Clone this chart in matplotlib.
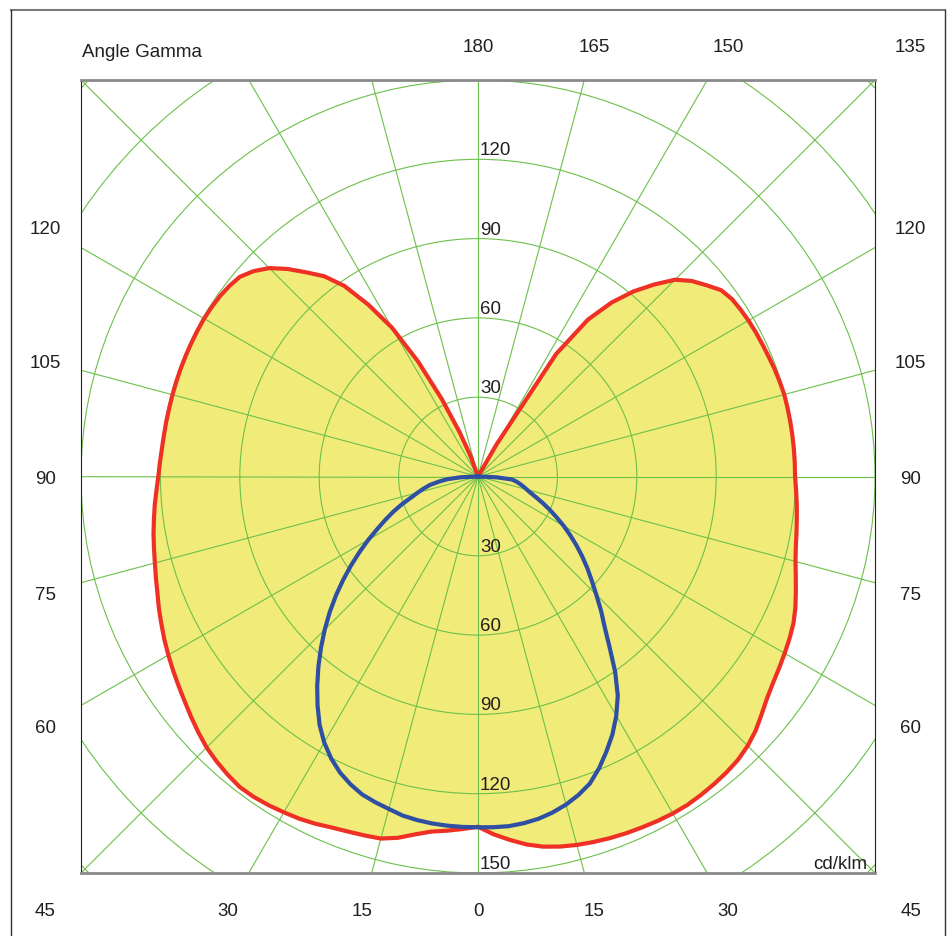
import numpy as np
import matplotlib.pyplot as plt
from matplotlib.patches import Circle
from matplotlib.lines import Line2D

plt.rcParams['font.family'] = ['Liberation Sans', 'DejaVu Sans']

# gamma angles in degrees, 0 = straight down, 180 = straight up, 2.5 deg steps
gamma = [i * 2.5 for i in range(73)]

# red curve (C0-C180) in cd/klm, right half and left half, from gamma 0 upwards
red_right = [132.5, 135.5, 138, 140.4, 142.2, 143.4, 144.3, 145, 145.6, 146.1,
             146.5, 146.9, 147.2, 147.3, 147, 146.6, 146.1, 145.4, 144.1, 142.3,
             139.9, 137.7, 136.1, 134.9, 133.8, 132.7, 131.5, 129.8, 127.8, 125.9,
             124.2, 123, 122.2, 121.5, 120.9, 120.3, 119.8, 119.8, 119.8, 119.8,
             119.8, 119.8, 119.8, 119.5, 119.2, 118.8, 118.5, 118.3, 118, 117.6,
             117.1, 115.8, 112.6, 109.5, 105.3, 98.5, 91.4, 83, 72.5, 55,
             14, 0]
red_left = [132.5, 133.5, 134.5, 135.5, 137.5, 140, 141.8, 142.4, 143, 143.8,
            145, 146, 146.7, 147.4, 147.9, 148, 147.2, 146.2, 145, 143.3,
            141.5, 139.7, 138.1, 136.6, 135.1, 133.6, 132, 130.5, 128.9, 127.6,
            126.4, 125.4, 124.5, 123.5, 122.6, 121.6, 120.8, 120.3, 119.9, 119.7,
            119.6, 119.5, 119.5, 119.5, 119.5, 119.5, 119.5, 119.5, 119.5, 119.3,
            119, 118.4, 117.5, 115, 111.5, 106.5, 100.8, 95.5, 88, 77,
            65, 49, 32.2, 18, 8.2, 0]

# blue curve (C90-C270), gamma 0 to 90
blue_right = [132.7, 132.8, 132.8, 132.3, 131.5, 130.2, 128.5, 126.3, 123.6, 119.5,
              114.8, 110, 104.5, 98.3, 90.4, 81.8, 74.5, 68.8, 63.2, 58.3,
              53.9, 49.6, 45.4, 41.3, 37.4, 33.5, 30, 26.7, 23.6, 21,
              19.1, 17.6, 16.1, 14.6, 12.8, 7, 0]
blue_left = [132.7, 132.7, 132.6, 132.4, 132, 131.4, 130.2, 129.2, 128, 126,
             123.5, 120.2, 116.2, 111.4, 105.7, 99.8, 93.8, 87.8, 81.9, 76,
             70.1, 64.2, 58.5, 53, 47.8, 42.8, 38.5, 34.5, 30.5, 26.5,
             23.6, 21, 18.5, 15, 11.5, 6.5, 0]

rings = [30, 60, 90, 120, 150, 180, 210]
ring_labels_top = [30, 60, 90, 120]
ring_labels_bottom = [30, 60, 90, 120, 150]
right_labels = [0, 15, 30, 45, 60, 75, 90, 105, 120, 135, 150, 165, 180]
left_labels = [15, 30, 45, 60, 75, 90, 105, 120]

yellow = '#f1ec7a'
red = '#ee3124'
blue = '#2f4fa3'
green = '#6cc04a'
txt = '#231f20'


def curve(r_right, r_left):
    # closed outline: right half from the top end down to gamma 0, then left half back up
    gr = np.radians(gamma[:len(r_right)])
    gl = np.radians(gamma[:len(r_left)])
    rr = np.array(r_right)
    rl = np.array(r_left)
    x = np.concatenate([(rr * np.sin(gr))[::-1], (-rl * np.sin(gl))[1:]])
    y = np.concatenate([(-rr * np.cos(gr))[::-1], (-rl * np.cos(gl))[1:]])
    return x, y


fig = plt.figure(figsize=(9.49, 9.36), dpi=100)
ax = fig.add_axes([81 / 949, 63 / 936, 794 / 949, 793 / 936])
ax.set_xlim(-150, 150)
ax.set_ylim(-150, 150)
ax.set_xticks([])
ax.set_yticks([])

xr, yr = curve(red_right, red_left)
ax.fill(xr, yr, color=yellow, lw=0, zorder=1)

# polar grid
for r in rings:
    ax.add_patch(Circle((0, 0), r, fill=False, ec=green, lw=0.8, zorder=2))
for a in range(0, 360, 15):
    t = np.radians(a)
    ax.plot([0, 260 * np.sin(t)], [0, -260 * np.cos(t)], color=green, lw=0.8, zorder=2)

ax.plot(xr, yr, color=red, lw=3, zorder=3, solid_joinstyle='round')
xb, yb = curve(blue_right, blue_left)
ax.plot(xb, yb, color=blue, lw=3, zorder=4, solid_joinstyle='round')

for s in ['top', 'bottom']:
    ax.spines[s].set_color('#8a8a8a')
    ax.spines[s].set_linewidth(2)
for s in ['left', 'right']:
    ax.spines[s].set_color('#222222')
    ax.spines[s].set_linewidth(0.8)

# ring values
for r in ring_labels_top:
    ax.text(0.7, r + 1.5, str(r), ha='left', va='baseline', fontsize=13.5, color=txt, zorder=5)
for r in ring_labels_bottom:
    ax.text(0.7, -r + 1.5, str(r), ha='left', va='baseline', fontsize=13.5, color=txt, zorder=5)

# gamma labels round the frame
d = 163.5
for side, labels in [(1, right_labels), (-1, left_labels)]:
    for a in labels:
        t = np.radians(a)
        x, y = side * np.sin(t), -np.cos(t)
        k = d / max(abs(x), abs(y))
        ax.text(k * x, k * y - 1.1, str(a), ha='center', va='center', fontsize=13.5,
                color=txt, clip_on=False)

ax.text(-149.8, 158.7, 'Angle Gamma', ha='left', va='baseline', fontsize=13.5,
        color=txt, clip_on=False)
ax.text(147.3, -148.3, 'cd/klm', ha='right', va='baseline', fontsize=13.5,
        color=txt, zorder=5)

# outer frame
fig.add_artist(Line2D([11 / 949, 945 / 949], [1 - 10 / 936, 1 - 10 / 936],
                      transform=fig.transFigure, color='#7a7a7a', lw=1.5))
fig.add_artist(Line2D([11 / 949, 11 / 949], [0, 1 - 10 / 936],
                      transform=fig.transFigure, color='#333333', lw=1))
fig.add_artist(Line2D([945 / 949, 945 / 949], [0, 1 - 10 / 936],
                      transform=fig.transFigure, color='#333333', lw=1))

fig.savefig('out.png', dpi=100)
